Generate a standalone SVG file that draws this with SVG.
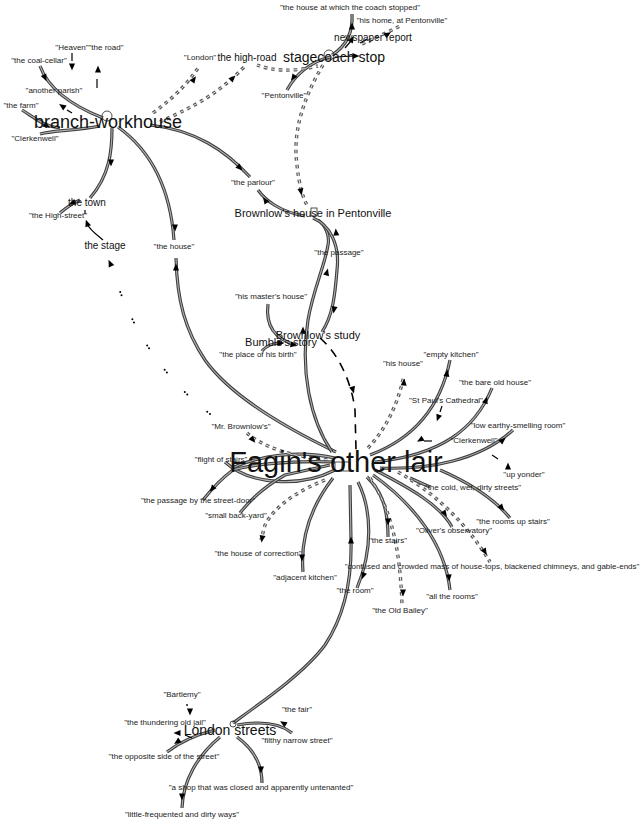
<svg xmlns="http://www.w3.org/2000/svg" xmlns:xlink="http://www.w3.org/1999/xlink" width="643" height="824" viewBox="0 0 643 824">
<style>
text{font-family:"Liberation Sans",Arial,sans-serif;text-anchor:middle;fill:#111}
.s{font-size:8px;fill:#222}
.m{font-size:10px}
.m11{font-size:11px}
.o{fill:none;stroke:#3c3c3c;stroke-width:3.2}
.i{fill:none;stroke:#b0b0b0;stroke-width:1.1}
.do{fill:none;stroke:#5a5a5a;stroke-width:3.4;stroke-dasharray:3.5 4}
.di{fill:none;stroke:#e8e8e8;stroke-width:1;stroke-dasharray:3.5 4}
.k{fill:none;stroke:#000;stroke-width:1.6;stroke-dasharray:9 7}
.t{fill:none;stroke:#000;stroke-width:1.2}
.dot{fill:none;stroke:#000;stroke-width:2;stroke-linecap:round;stroke-dasharray:0 3.5 0 26.5}
.ic{fill:none;stroke:#222;stroke-width:0.8}
</style>
<defs>
<path id="ah" d="M3.5,0 L-3.5,-3 L-3.5,3 Z" fill="#000"/>
<path id="S1" d="M40,66 C48,88 70,105 103,118"/>
<path id="S2" d="M22,110 C35,118 45,127 60,128"/>
<path id="S3" d="M40,134 C55,130 75,131 100,126"/>
<path id="S4" d="M112,128 C112,150 110,175 90,198"/>
<path id="S5" d="M80,200 C72,203 66,208 60,213"/>
<path id="S7" d="M118,127 C150,150 170,185 174,240"/>
<path id="S8" d="M336,452 C280,425 230,395 205,360 C185,330 177,300 176,258"/>
<path id="S9" d="M150,125 C195,130 225,150 250,177"/>
<path id="S10" d="M258,190 C265,200 280,212 305,216"/>
<path id="S12" d="M332,452 C310,420 300,370 308,320 C313,290 325,265 328,245 C330,235 325,225 318,220"/>
<path id="S13" d="M313,218 C330,225 340,245 337,270 C335,295 333,315 322,332"/>
<path id="S14" d="M268,304 C266,320 270,338 296,345"/>
<path id="S15" d="M262,351 C266,346 272,343 282,343"/>
<path id="S16" d="M330,57 C310,62 295,75 287,90"/>
<path id="S17" d="M332,55 C348,45 353,30 352,14"/>
<path id="F1" d="M225,462 C250,485 300,488 335,470"/>
<path id="F1b" d="M232,468 C260,455 300,450 335,458"/>
<path id="F2" d="M335,462 C290,460 250,465 233,470 C222,478 215,485 203,500"/>
<path id="F3" d="M240,513 C250,500 262,488 285,475 L330,465"/>
<path id="F4" d="M333,478 C312,505 300,535 303,572"/>
<path id="F5" d="M233,723 C265,700 305,672 325,645 C345,615 352,580 351,540 L350,485"/>
<path id="F6" d="M358,482 C372,510 373,550 357,588"/>
<path id="F7" d="M367,477 C380,490 388,505 388,537"/>
<path id="F8" d="M373,475 C415,505 445,545 450,590"/>
<path id="F9" d="M375,470 C410,488 440,505 452,527"/>
<path id="F10" d="M440,470 C470,483 495,500 510,518"/>
<path id="F11" d="M410,478 L430,487"/>
<path id="F12" d="M380,468 C430,470 480,460 513,430"/>
<path id="F13" d="M375,462 C440,455 475,430 492,388"/>
<path id="F14" d="M370,455 C410,440 440,410 450,360"/>
<path id="L1" d="M237,725 C260,721 280,723 292,733"/>
<path id="L2" d="M215,730 C195,735 180,742 167,752"/>
<path id="L3" d="M237,737 C255,750 262,765 262,783"/>
<path id="L4" d="M220,737 C198,755 183,780 182,808"/>
<path id="D1" d="M153,113 C170,100 185,88 200,65"/>
<path id="D2" d="M160,122 C185,110 215,98 245,66"/>
<path id="D3" d="M257,65 C270,70 290,73 318,66"/>
<path id="D4" d="M323,65 C305,95 292,130 297,165 C299,185 303,198 307,205"/>
<path id="D5" d="M247,433 C260,445 290,458 335,460"/>
<path id="D6" d="M325,480 C300,490 275,505 265,525 L261,540"/>
<path id="D7" d="M368,448 C385,430 398,405 404,375"/>
<path id="D8" d="M370,478 C388,505 400,540 402,605"/>
<path id="D9" d="M398,472 C430,490 465,520 490,562"/>
<path id="D10" d="M362,44 C375,38 388,32 400,26"/>
</defs>
<rect width="643" height="824" fill="#fff"/>
<g id="connectors">
<g id="solid">
<use href="#S1" class="o"/><use href="#S1" class="i"/>
<use href="#S2" class="o"/><use href="#S2" class="i"/>
<use href="#S3" class="o"/><use href="#S3" class="i"/>
<use href="#S4" class="o"/><use href="#S4" class="i"/>
<use href="#S5" class="o"/><use href="#S5" class="i"/>
<use href="#S7" class="o"/><use href="#S7" class="i"/>
<use href="#S8" class="o"/><use href="#S8" class="i"/>
<use href="#S9" class="o"/><use href="#S9" class="i"/>
<use href="#S10" class="o"/><use href="#S10" class="i"/>
<use href="#S12" class="o"/><use href="#S12" class="i"/>
<use href="#S13" class="o"/><use href="#S13" class="i"/>
<use href="#S14" class="o"/><use href="#S14" class="i"/>
<use href="#S15" class="o"/><use href="#S15" class="i"/>
<use href="#S16" class="o"/><use href="#S16" class="i"/>
<use href="#S17" class="o"/><use href="#S17" class="i"/>
<use href="#F1" class="o"/><use href="#F1" class="i"/>
<use href="#F1b" class="o"/><use href="#F1b" class="i"/>
<use href="#F2" class="o"/><use href="#F2" class="i"/>
<use href="#F3" class="o"/><use href="#F3" class="i"/>
<use href="#F4" class="o"/><use href="#F4" class="i"/>
<use href="#F5" class="o"/><use href="#F5" class="i"/>
<use href="#F6" class="o"/><use href="#F6" class="i"/>
<use href="#F7" class="o"/><use href="#F7" class="i"/>
<use href="#F8" class="o"/><use href="#F8" class="i"/>
<use href="#F9" class="o"/><use href="#F9" class="i"/>
<use href="#F10" class="o"/><use href="#F10" class="i"/>
<use href="#F11" class="o"/><use href="#F11" class="i"/>
<use href="#F12" class="o"/><use href="#F12" class="i"/>
<use href="#F13" class="o"/><use href="#F13" class="i"/>
<use href="#F14" class="o"/><use href="#F14" class="i"/>
<use href="#L1" class="o"/><use href="#L1" class="i"/>
<use href="#L2" class="o"/><use href="#L2" class="i"/>
<use href="#L3" class="o"/><use href="#L3" class="i"/>
<use href="#L4" class="o"/><use href="#L4" class="i"/>
</g>
<g id="dashed">
<use href="#D1" class="do"/><use href="#D1" class="di"/>
<use href="#D2" class="do"/><use href="#D2" class="di"/>
<use href="#D3" class="do"/><use href="#D3" class="di"/>
<use href="#D4" class="do"/><use href="#D4" class="di"/>
<use href="#D5" class="do"/><use href="#D5" class="di"/>
<use href="#D6" class="do"/><use href="#D6" class="di"/>
<use href="#D7" class="do"/><use href="#D7" class="di"/>
<use href="#D8" class="do"/><use href="#D8" class="di"/>
<use href="#D9" class="do"/><use href="#D9" class="di"/>
<use href="#D10" class="do"/><use href="#D10" class="di"/>
</g>
<g id="black">
<path class="k" d="M320,338 C340,355 352,385 355,410 L356,450"/>
<path class="t" d="M72,53 L72,61"/>
<path class="t" d="M97,88 L97,79"/>
<path class="t" d="M72,113 L67,110"/>
<path class="t" d="M442,406 L440,412"/>
<path class="t" d="M492,455 L498,459"/>
<path class="t" d="M103,240 C97,235 90,230 87,224"/>
<path class="t" d="M85,210 L85,214"/>
<path class="t" d="M335,57 L354,56"/>
<path class="t" d="M345,48 L351,41"/>
<path class="t" d="M360,43 L367,39"/>
<path class="t" d="M185,735 L192,738"/>
<path class="t" d="M424,441 L432,441"/>
<circle cx="187" cy="705" r="0.9" fill="#000"/>
<path class="dot" d="M210,414 Q140,360 112,268"/>
</g>
<g id="arrows">
<use href="#ah" transform="translate(45,78) rotate(65)"/>
<use href="#ah" transform="translate(47,126) rotate(35)"/>
<use href="#ah" transform="translate(111,163) rotate(90)"/>
<use href="#ah" transform="translate(72,203) rotate(160)"/>
<use href="#ah" transform="translate(87,223) rotate(-110)"/>
<use href="#ah" transform="translate(175,228) rotate(88)"/>
<use href="#ah" transform="translate(176,267) rotate(-90)"/>
<use href="#ah" transform="translate(240,168) rotate(45)"/>
<use href="#ah" transform="translate(265,200) rotate(-125)"/>
<use href="#ah" transform="translate(336,232) rotate(-95)"/>
<use href="#ah" transform="translate(327,272) rotate(-75)"/>
<use href="#ah" transform="translate(334,310) rotate(100)"/>
<use href="#ah" transform="translate(294,345) rotate(10)"/>
<use href="#ah" transform="translate(281,343) rotate(0)"/>
<use href="#ah" transform="translate(303,330) rotate(-90)"/>
<use href="#ah" transform="translate(353,390) rotate(75)"/>
<use href="#ah" transform="translate(293,78) rotate(125)"/>
<use href="#ah" transform="translate(352,26) rotate(-90)"/>
<use href="#ah" transform="translate(356,56) rotate(0)"/>
<use href="#ah" transform="translate(352,39) rotate(-60)"/>
<use href="#ah" transform="translate(388,34) rotate(-30)"/>
<use href="#ah" transform="translate(194,79) rotate(-55)"/>
<use href="#ah" transform="translate(233,78) rotate(-45)"/>
<use href="#ah" transform="translate(301,192) rotate(80)"/>
<use href="#ah" transform="translate(253,440) rotate(50)"/>
<use href="#ah" transform="translate(262,539) rotate(100)"/>
<use href="#ah" transform="translate(404,382) rotate(-85)"/>
<use href="#ah" transform="translate(403,593) rotate(90)"/>
<use href="#ah" transform="translate(485,552) rotate(60)"/>
<use href="#ah" transform="translate(72,67) rotate(90)"/>
<use href="#ah" transform="translate(98,69) rotate(-90)"/>
<use href="#ah" transform="translate(62,106) rotate(-145)"/>
<use href="#ah" transform="translate(438,418) rotate(110)"/>
<use href="#ah" transform="translate(508,466) rotate(-90)"/>
<use href="#ah" transform="translate(420,440) rotate(150)"/>
<use href="#ah" transform="translate(110,263) rotate(-115)"/>
<use href="#ah" transform="translate(212,489) rotate(130)"/>
<use href="#ah" transform="translate(302,558) rotate(90)"/>
<use href="#ah" transform="translate(351,540) rotate(-90)"/>
<use href="#ah" transform="translate(363,576) rotate(110)"/>
<use href="#ah" transform="translate(388,522) rotate(90)"/>
<use href="#ah" transform="translate(449,578) rotate(85)"/>
<use href="#ah" transform="translate(445,514) rotate(55)"/>
<use href="#ah" transform="translate(502,508) rotate(50)"/>
<use href="#ah" transform="translate(503,440) rotate(-40)"/>
<use href="#ah" transform="translate(486,400) rotate(-70)"/>
<use href="#ah" transform="translate(447,373) rotate(-80)"/>
<use href="#ah" transform="translate(283,723) rotate(-150)"/>
<use href="#ah" transform="translate(177,742) rotate(145)"/>
<use href="#ah" transform="translate(177,733) rotate(180)"/>
<use href="#ah" transform="translate(261,770) rotate(90)"/>
<use href="#ah" transform="translate(182,797) rotate(90)"/>
<use href="#ah" transform="translate(190,712) rotate(90)"/>
</g>
</g>
<g id="n-branch-workhouse"><circle class="ic" cx="107" cy="116" r="5"/><text x="108" y="128" style="font-size:18px">branch-workhouse</text></g>
<g id="n-stagecoach-stop"><circle class="ic" cx="329" cy="55" r="5"/><text x="334" y="62" style="font-size:14px">stagecoach stop</text></g>
<g id="n-newspaper-report"><text class="m" x="373" y="41">newspaper report</text></g>
<g id="n-high-road"><text class="m" x="247" y="61">the high-road</text></g>
<g id="n-town"><text class="m" x="87" y="206">the town</text></g>
<g id="n-stage"><text class="m" x="105" y="249">the stage</text></g>
<g id="n-brownlow-house"><rect class="ic" x="311" y="208" width="6" height="8"/><text class="m11" x="313" y="217">Brownlow's house in Pentonville</text></g>
<g id="n-brownlow-study"><text class="m11" x="318" y="339">Brownlow's study</text></g>
<g id="n-bumble-story"><text class="m11" x="281" y="346">Bumble's story</text></g>
<g id="n-fagin"><rect class="ic" x="335" y="462" width="7" height="9"/><rect class="ic" x="343" y="462" width="7" height="9"/><text x="336" y="472" style="font-size:29px">Fagin's other lair</text></g>
<g id="n-london-streets"><circle class="ic" cx="233" cy="724" r="3"/><text x="230" y="735" style="font-size:14px">London streets</text></g>
<g id="labels">
<text class="s" x="350" y="10">"the house at which the coach stopped"</text>
<text class="s" x="402" y="23">"his home, at Pentonville"</text>
<text class="s" x="72" y="50">"Heaven"</text>
<text class="s" x="106" y="50">"the road"</text>
<text class="s" x="39" y="63">"the coal-cellar"</text>
<text class="s" x="54" y="93">"another parish"</text>
<text class="s" x="21" y="108">"the farm"</text>
<text class="s" x="35" y="141">"Clerkenwell"</text>
<text class="s" x="200" y="60">"London"</text>
<text class="s" x="284" y="98">"Pentonville"</text>
<text class="s" x="253" y="185">"the parlour"</text>
<text class="s" x="58" y="218">"the High-street"</text>
<text class="s" x="174" y="249">"the house"</text>
<text class="s" x="339" y="255">"the passage"</text>
<text class="s" x="271" y="299">"his master's house"</text>
<text class="s" x="258" y="357">"the place of his birth"</text>
<text class="s" x="241" y="429">"Mr. Brownlow's"</text>
<text class="s" x="221" y="462">"flight of stairs"</text>
<text class="s" x="198" y="503">"the passage by the street-door"</text>
<text class="s" x="236" y="518">"small back-yard"</text>
<text class="s" x="258" y="556">"the house of correction"</text>
<text class="s" x="403" y="366">"his house"</text>
<text class="s" x="451" y="357">"empty kitchen"</text>
<text class="s" x="495" y="385">"the bare old house"</text>
<text class="s" x="446" y="403">"St Paul's Cathedral"</text>
<text class="s" x="518" y="428">"low earthy-smelling room"</text>
<text class="s" x="474" y="443">"Clerkenwell"</text>
<text class="s" x="524" y="477">"up yonder"</text>
<text class="s" x="473" y="490">"the cold, wet, dirty streets"</text>
<text class="s" x="513" y="524">"the rooms up stairs"</text>
<text class="s" x="454" y="533">"Oliver's observatory"</text>
<text class="s" x="388" y="543">"the stairs"</text>
<text class="s" x="492" y="569">"confused and crowded mass of house-tops, blackened chimneys, and gable-ends"</text>
<text class="s" x="305" y="580">"adjacent kitchen"</text>
<text class="s" x="355" y="593">"the room"</text>
<text class="s" x="452" y="599">"all the rooms"</text>
<text class="s" x="400" y="613">"the Old Bailey"</text>
<text class="s" x="182" y="697">"Bartlemy"</text>
<text class="s" x="297" y="712">"the fair"</text>
<text class="s" x="165" y="725">"the thundering old jail"</text>
<text class="s" x="297" y="743">"filthy narrow street"</text>
<text class="s" x="164" y="759">"the opposite side of the street"</text>
<text class="s" x="261" y="790">"a shop that was closed and apparently untenanted"</text>
<text class="s" x="182" y="817">"little-frequented and dirty ways"</text>
</g>
</svg>
